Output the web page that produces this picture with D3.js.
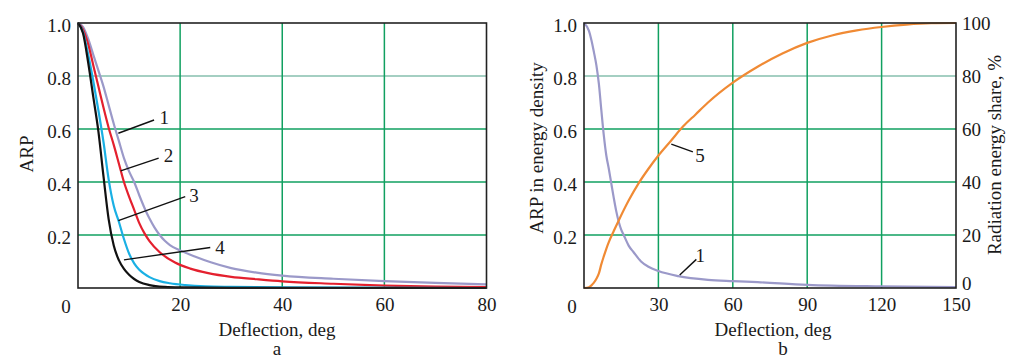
<!DOCTYPE html>
<html><head><meta charset="utf-8">
<script src="https://cdn.jsdelivr.net/npm/d3@7"></script>
<style>
html,body{margin:0;padding:0;background:#fff;}
svg text{font-family:"Liberation Serif","DejaVu Serif",serif;fill:#1a1a1a;}
</style></head>
<body><svg id="chart" width="1014" height="360"></svg>
<script>
// ---------- DATA ----------
// Panel a: ARP vs deflection (deg)
const deg1 = [0,1,2,3,4,5,6,7,8,9,10,11,12,13,14,15,16,17,18,20,23,26,30,35,40,50,60,70,80];
const arp1 = [1,0.985,0.94,0.88,0.82,0.76,0.69,0.62,0.555,0.49,0.44,0.4,0.35,0.303,0.262,0.228,0.2,0.178,0.162,0.142,0.118,0.097,0.075,0.058,0.047,0.035,0.026,0.019,0.014];
const deg2 = [0,1,2,3,4,5,6,7,8,9,10,11,12,13,14,16,19,22,25.5,30,35,40,50,60,70,80];
const arp2 = [1,0.975,0.92,0.84,0.76,0.68,0.605,0.54,0.47,0.4,0.345,0.295,0.245,0.207,0.177,0.135,0.096,0.073,0.056,0.042,0.033,0.025,0.016,0.009,0.005,0.003];
const deg3 = [0,1,2,3,4,5,6,7,8,9,10,11,12,13,14,16,18,21,25,30,40,80];
const arp3 = [1,0.965,0.88,0.78,0.67,0.55,0.41,0.31,0.25,0.185,0.13,0.093,0.069,0.053,0.041,0.026,0.018,0.011,0.006,0.004,0.002,0];
const deg4 = [0,1,2,3,4,5,6,7,8,9,10,11,12,14,17,20,30,80];
const arp4 = [1,0.96,0.85,0.72,0.59,0.42,0.26,0.16,0.105,0.072,0.05,0.034,0.023,0.011,0.004,0.002,0.0005,0];
// Panel b: ARP in energy density (curve 1) and radiation energy share, % (curve 5)
const degB1 = [0,2,3,4,5,6,7,8,9,10,11,12,13,14,15,16,18,20,23,26,30,38,50,60,70,90,120,150];
const arpB1 = [1,0.97,0.935,0.89,0.84,0.77,0.67,0.575,0.5,0.45,0.395,0.34,0.29,0.25,0.22,0.2,0.16,0.135,0.1,0.08,0.064,0.045,0.031,0.026,0.022,0.012,0.006,0.003];
const degB5 = [0,2,3,4,5,6,7,8,9,10,12,14,18,22,26,30,35,40,45,50,60,70,80,90,100,110,120,130,140,150];
const share5 = [0,0.3,1,2,3.5,5.5,9,12,14.8,17.3,21.5,25.5,33,39.5,45,50,55.5,61,65.5,70,77.5,83.5,88.5,92.5,95.3,97.2,98.5,99.4,99.9,100];
// Ticks
const xTicksA = [20,40,60,80];
const xTicksB = [30,60,90,120,150];
const yTicks = [0.2,0.4,0.6,0.8,1.0];
const yTicksR = [20,40,60,80,100];
// Leader labels: [label, curve deg, curve value, end deg, end value, text deg, text value]
const labelsA = [["1",7.9,0.584,14.9,0.634,16.9,0.645],["2",8.35,0.442,15.8,0.49,17.7,0.5],["3",7.9,0.254,21,0.345,22.7,0.35],["4",9.0,0.106,25.9,0.153,27.8,0.153]];
const labelsB = [["5",35.2,0.543,43.9,0.514,46.8,0.5],["1",38.6,0.049,45.3,0.108,46.9,0.125]];

// ---------- DRAW ----------
const svg = d3.select("#chart");
const FS = 19;
const FONT = '"Liberation Serif","DejaVu Serif",serif';
const gridCol = "#10a060", gridLight = "#86bfae";
const colors = {c1:"#9b99c9", c2:"#e4202e", c3:"#1ab0e4", c4:"#111111", c5:"#f08a34"};

const yTop = 23, yBot = 288;
const xA = d3.scaleLinear().domain([0,80]).range([78,486.5]);
const xB = d3.scaleLinear().domain([0,150]).range([584,956]);
const y = d3.scaleLinear().domain([0,1]).range([yBot,yTop]);
const yR = d3.scaleLinear().domain([0,100]).range([yBot,yTop]);

function txt(sel){ return sel.style("font-size",FS+"px").style("font-family",FONT).attr("fill","#1a1a1a"); }

function panel(x, xt, titleX, letter, letterX) {
  const g = svg.append("g");
  g.selectAll(".hg").data(yTicks.filter(d=>d<1)).join("line")
    .attr("x1", x.range()[0]).attr("x2", x.range()[1])
    .attr("y1", d=>y(d)).attr("y2", d=>y(d))
    .attr("stroke", d=> Math.abs(d-0.8)<1e-6 ? gridLight : gridCol).attr("stroke-width",1.5);
  g.selectAll(".vg").data(xt.slice(0,-1)).join("line")
    .attr("x1", d=>x(d)).attr("x2", d=>x(d))
    .attr("y1", yTop).attr("y2", yBot)
    .attr("stroke", gridCol).attr("stroke-width",1.5);
  const ax = g.append("g").attr("transform",`translate(0,${yBot})`)
    .call(d3.axisBottom(x).tickValues(xt).tickSize(0).tickPadding(10));
  ax.select(".domain").remove();
  txt(ax.selectAll("text"));
  const ay = g.append("g").attr("transform",`translate(${x.range()[0]},0)`)
    .call(d3.axisLeft(y).tickValues(yTicks).tickSize(0).tickPadding(7).tickFormat(d3.format(".1f")));
  ay.select(".domain").remove();
  txt(ay.selectAll("text")).attr("dy","0.45em");
  txt(g.append("text").attr("x", x.range()[0]-12).attr("y", yBot+25).attr("text-anchor","middle")).text("0");
  txt(g.append("text").attr("x", titleX).attr("y", yBot+48).attr("text-anchor","middle")).text("Deflection, deg");
  txt(g.append("text").attr("x", letterX).attr("y", yBot+67).attr("text-anchor","middle")).text(letter);
  return g;
}

const gA = panel(xA, xTicksA, 277, "a", 277);
const gB = panel(xB, xTicksB, 773, "b", 783);

const lineA = (xs, ys) => d3.line().x(i=>xA(xs[i])).y(i=>y(ys[i])).curve(d3.curveMonotoneX)(d3.range(xs.length));
[[deg1,arp1,colors.c1],[deg2,arp2,colors.c2],[deg3,arp3,colors.c3],[deg4,arp4,colors.c4]].forEach(([xs,ys,c])=>{
  gA.append("path").attr("d", lineA(xs,ys)).attr("fill","none").attr("stroke",c).attr("stroke-width",2.2);
});
gB.append("path").attr("d", d3.line().x(i=>xB(degB1[i])).y(i=>y(arpB1[i])).curve(d3.curveMonotoneX)(d3.range(degB1.length)))
  .attr("fill","none").attr("stroke",colors.c1).attr("stroke-width",2.2);
gB.append("path").attr("d", d3.line().x(i=>xB(degB5[i])).y(i=>yR(share5[i])).curve(d3.curveMonotoneX)(d3.range(degB5.length)))
  .attr("fill","none").attr("stroke",colors.c5).attr("stroke-width",2.2);

[[xA,gA],[xB,gB]].forEach(([x,g])=>{
  g.append("rect").attr("x",x.range()[0]).attr("y",yTop).attr("width",x.range()[1]-x.range()[0]).attr("height",yBot-yTop)
    .attr("fill","none").attr("stroke","#222").attr("stroke-width",1.6);
});

txt(gB.selectAll(".ry").data([0].concat(yTicksR)).join("text")
  .attr("x", xB.range()[1]+6).attr("y", d=>yR(d)).attr("dy", d=> d===0 ? "0.12em" : "0.35em")).text(d=>d);

function leaders(g, x, labs){
  labs.forEach(([t,x0,y0,x1,y1,tx,ty])=>{
    g.append("line").attr("x1",x(x0)).attr("y1",y(y0)).attr("x2",x(x1)).attr("y2",y(y1))
      .attr("stroke","#111").attr("stroke-width",1.4);
    txt(g.append("text").attr("x",x(tx)).attr("y",y(ty)).attr("dy","0.35em").attr("text-anchor","middle")).text(t);
  });
}
leaders(gA, xA, labelsA);
leaders(gB, xB, labelsB);

txt(svg.append("text").attr("transform","translate(33,154) rotate(-90)").attr("text-anchor","middle")).text("ARP");
txt(svg.append("text").attr("transform","translate(543,148) rotate(-90)").attr("text-anchor","middle")).text("ARP in energy density");
txt(svg.append("text").attr("transform","translate(1001,155) rotate(-90)").attr("text-anchor","middle")).text("Radiation energy share, %");
</script></body></html>
